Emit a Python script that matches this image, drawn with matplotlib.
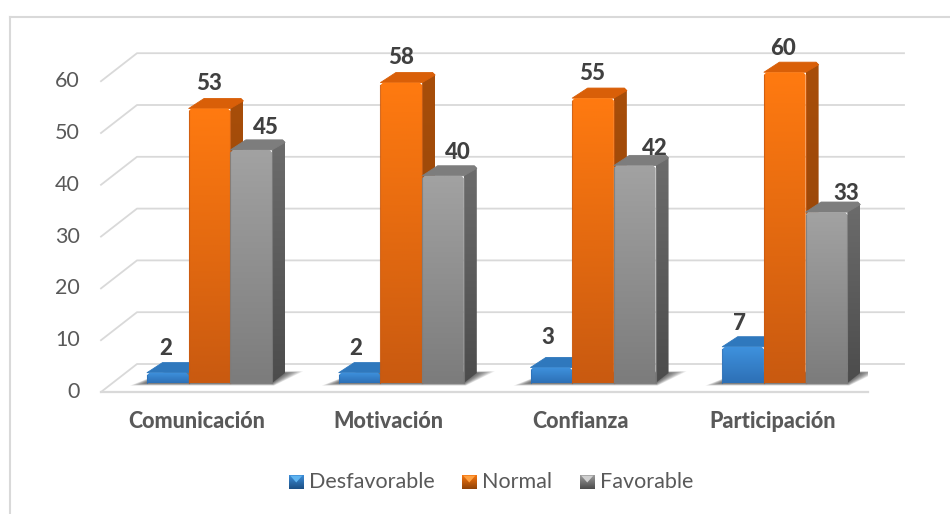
import numpy as np
import matplotlib
matplotlib.use("Agg")
import matplotlib.pyplot as plt
from matplotlib.patches import Polygon

plt.rcParams["font.family"] = ["Lato", "DejaVu Sans"]

categorias = ["Comunicación", "Motivación", "Confianza", "Participación"]
series = ["Desfavorable", "Normal", "Favorable"]
desfavorable = [2, 2, 3, 7]
normal = [53, 58, 55, 60]
favorable = [45, 40, 42, 33]
valores = [desfavorable, normal, favorable]
ticks_y = [0, 10, 20, 30, 40, 50, 60]

# colores por serie: frente arriba, frente abajo, tapa, lateral arriba, lateral abajo, brillo
colores = {
    "Desfavorable": ("#3f92de", "#2d70b6", "#2f78bd", "#1f5a94", "#1c4f84", "#5fb4f0"),
    "Normal": ("#ff7a10", "#c95a10", "#d95f08", "#a84e0a", "#8f4208", "#ffa040"),
    "Favorable": ("#a2a2a2", "#7c7c7c", "#7d7d7d", "#6c6c6c", "#4c4c4c", "#cfcfcf"),
}
# desplazamiento de las etiquetas de valor por serie, en pixeles
ajuste_etiqueta = {
    "Desfavorable": [(-9, -3), (-10, -3), (-10, 3), (-10, -4)],
    "Normal": [(-7, -2), (-7, -2), (-7, -2), (-8, -3)],
    "Favorable": [(8, -4), (8, -3), (14, -10), (13, -8)],
}

W, H = 950, 514
X0, X1, Y0, PX_VALOR = 101, 868, 392, 5.18  # plano frontal del piso, en pixeles
PX_CAT = (X1 - X0) / 4
FONDO_X, FONDO_Y = 36, 28  # profundidad del piso
GRID = "#d9d9d9"

fig = plt.figure(figsize=(W / 100, H / 100), dpi=100)
ax = fig.add_axes([X0 / W, 0, (X1 - X0) / W, 1])
ax.axis("off")
px_w = 4 / (X1 - X0)
px_h = 1 / PX_VALOR


def hex_rgb(c):
    return np.array(matplotlib.colors.to_rgb(c))


def proy(x, v, d=0.0):
    """categoria x, valor v, profundidad d (0 frente, 1 fondo) a coordenadas del eje"""
    return (x + d * FONDO_X / PX_CAT, v + d * FONDO_Y / PX_VALOR)


def degradado(xs, ys, arriba, abajo, zorder):
    """rellena un poligono con un degradado vertical"""
    pol = Polygon(np.column_stack([xs, ys]), closed=True, fc="none", ec="none", zorder=zorder)
    ax.add_patch(pol)
    t = np.linspace(0, 1, 64)[:, None]
    img = (hex_rgb(arriba) * (1 - t) + hex_rgb(abajo) * t)[:, None, :]
    im = ax.imshow(img, extent=(min(xs), max(xs), min(ys), max(ys)), aspect="auto",
                   zorder=zorder, interpolation="bilinear")
    im.set_clip_path(pol)


# marco: solo borde izquierdo y superior
marco_x = (10 - X0) * px_w
marco_y = (Y0 - 16.5) * px_h
ax.plot([marco_x, marco_x], [(Y0 - H) * px_h, marco_y], color=GRID, lw=1.5, clip_on=False)
ax.plot([marco_x, (W - X0) * px_w], [marco_y, marco_y], color=GRID, lw=1.5, clip_on=False)

# lineas de la rejilla: pared del fondo y costado izquierdo
for t in ticks_y:
    a = proy(0, t, 0)
    b = proy(0, t, 1)
    c = proy(4, t, 1)
    ax.plot([a[0], b[0], c[0]], [a[1], b[1], c[1]], color=GRID, lw=1.3, clip_on=False)
a = proy(0, 0, 0)
b = proy(4, 0, 0)
ax.plot([a[0], b[0]], [a[1], b[1]], color=GRID, lw=1.6, clip_on=False)

ANCHO = 41.7 / PX_CAT
D0, D1 = 0.32, 0.68
INICIO = (147 - X0 - D0 * FONDO_X) / PX_CAT  # borde izquierdo de la primera barra del grupo

# sombra difusa sobre el piso a ambos lados de cada grupo
for i in range(len(categorias)):
    x_a = i + INICIO
    x_b = x_a + 3 * ANCHO
    for f in np.linspace(1, 0.1, 10):
        pts = [
            proy(x_a - 17 * f * px_w, -0.5 * f, D0),
            proy(x_b + 2 * f * px_w, -0.5 * f, D0),
            proy(x_b + 16 * f * px_w, 0, D1 + 0.06 * f),
            proy(x_a + 4 * px_w, 0, D1 + 0.06 * f),
        ]
        ax.add_patch(Polygon(pts, fc="black", ec="none", alpha=0.075, zorder=2))


def barra(x, v, col, z):
    arriba, abajo, tapa, lat_a, lat_b, brillo = col
    fi, y_b = proy(x, 0, D0)
    fd = proy(x + ANCHO, 0, D0)[0]
    y_t = proy(x, v, D0)[1]
    ch_x, ch_y = 2.5 * px_w, 2.5 * px_h  # chaflan de las esquinas superiores

    # cara lateral
    sd = proy(x + ANCHO, 0, D1)
    st = proy(x + ANCHO, v, D1)
    degradado([fd, sd[0], st[0], st[0] - ch_x, fd], [y_b, sd[1], st[1] - ch_y, st[1], y_t], lat_a, lat_b, z)
    # tapa con esquinas recortadas
    ti = proy(x, v, D1)
    pts = [(fi, y_t), (fd, y_t), (st[0], st[1] - ch_y), (st[0] - ch_x, st[1]), (ti[0] + ch_x, ti[1])]
    ax.add_patch(Polygon(pts, fc=tapa, ec=tapa, lw=0.6, joinstyle="round", zorder=z + 0.1))
    # cara frontal
    degradado([fi, fd, fd, fd - ch_x, fi + ch_x, fi], [y_b, y_b, y_t - ch_y, y_t, y_t, y_t - ch_y], arriba, abajo, z + 0.2)
    # borde fino oscuro en los laterales del frente
    ax.plot([fi, fi], [y_b, y_t - ch_y], color=abajo, lw=0.8, alpha=0.8, zorder=z + 0.3)
    ax.plot([fd, fd], [y_b, y_t - ch_y], color=abajo, lw=0.8, alpha=0.8, zorder=z + 0.3)


for i, cat in enumerate(categorias):
    for j, nombre in enumerate(series):
        x = i + INICIO + j * ANCHO
        v = valores[j][i]
        barra(x, v, colores[nombre], 3 + j * 0.5)
        dx, dy = ajuste_etiqueta[nombre][i]
        px, py = proy(x + ANCHO / 2, v, (D0 + D1) / 2)
        ax.text(px + dx * px_w, py + 4.2 + dy * px_h, str(v), ha="center", va="center", fontsize=16,
                fontweight=900, color="#404040", zorder=6)
    ax.text(i + 0.5, (Y0 - 422) * px_h, cat, ha="center", va="center", fontsize=15.5,
            fontweight=900, color="#595959")

# etiquetas del eje y
for t in ticks_y:
    ax.text((80 - X0) * px_w, t, str(t), ha="right", va="center", fontsize=15.5, color="#595959")

# leyenda
ley_x = [289, 462, 580]
for nombre, lx in zip(series, ley_x):
    arriba, abajo, tapa, lat_a, lat_b, brillo = colores[nombre]
    x_l = (lx - X0) * px_w
    y_l = (Y0 - 489) * px_h
    s_w, s_h = 14.5 * px_w, 14.5 * px_h
    degradado([x_l, x_l + s_w, x_l + s_w, x_l], [y_l, y_l, y_l + s_h, y_l + s_h], arriba, lat_b, 5)
    ax.add_patch(Polygon([(x_l + s_w * 0.08, y_l + s_h * 0.92), (x_l + s_w * 0.92, y_l + s_h * 0.92),
                          (x_l + s_w / 2, y_l + s_h * 0.45)], fc=brillo, ec="none", zorder=6))
    ax.text(x_l + 20 * px_w, y_l + s_h / 2, nombre, ha="left", va="center", fontsize=15.5, color="#595959")

ax.set_xlim(0, 4)
ax.set_ylim((Y0 - H) * px_h, Y0 * px_h)
fig.savefig("out.png", dpi=100)
